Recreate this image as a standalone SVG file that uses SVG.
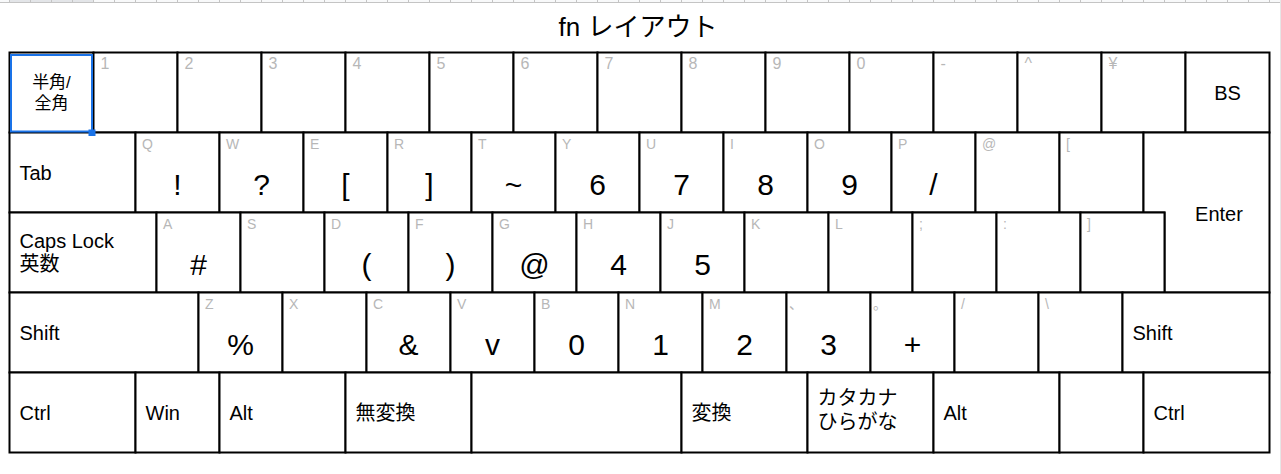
<svg xmlns="http://www.w3.org/2000/svg" width="1281" height="474" viewBox="0 0 1281 474">
<style>
.k{fill:#fff;stroke:#000;stroke-width:2}
text{font-family:"Liberation Sans","Noto Sans CJK JP",sans-serif;fill:#000}
.l{font-size:20px}
.c{text-anchor:middle}
.b{font-size:30px;text-anchor:middle}
.s{font-size:14px;fill:#b7b7b7}
.s1{font-size:16px;fill:#b7b7b7}
.g{stroke:#c4c4c4;stroke-width:1}
</style>
<rect width="1281" height="474" fill="#fff"/>
<g id="sheet-chrome">
<rect x="0" y="0" width="1281" height="3" fill="#f8f9fa"/>
<rect x="9.5" y="0" width="84" height="3" fill="#e3e5e8"/>
<line class="g" x1="0" y1="2.5" x2="1281" y2="2.5"/>
<path class="g" d="M9.5,0V3M30.5,0V3M51.5,0V3M72.5,0V3M93.5,0V3M114.5,0V3M135.5,0V3M156.5,0V3M177.5,0V3M198.5,0V3M219.5,0V3M240.5,0V3M261.5,0V3M282.5,0V3M303.5,0V3M324.5,0V3M345.5,0V3M366.5,0V3M387.5,0V3M408.5,0V3M429.5,0V3M450.5,0V3M471.5,0V3M492.5,0V3M513.5,0V3M534.5,0V3M555.5,0V3M576.5,0V3M597.5,0V3M618.5,0V3M639.5,0V3M660.5,0V3M681.5,0V3M702.5,0V3M723.5,0V3M744.5,0V3M765.5,0V3M786.5,0V3M807.5,0V3M828.5,0V3M849.5,0V3M870.5,0V3M891.5,0V3M912.5,0V3M933.5,0V3M954.5,0V3M975.5,0V3M996.5,0V3M1017.5,0V3M1038.5,0V3M1059.5,0V3M1080.5,0V3M1101.5,0V3M1122.5,0V3M1143.5,0V3M1164.5,0V3M1185.5,0V3M1206.5,0V3M1227.5,0V3M1248.5,0V3M1269.5,0V3"/>
<line x1="1280.5" y1="0" x2="1280.5" y2="474" stroke="#e6e6e6" stroke-width="1"/>
</g>
<g id="title"><text x="638" y="36" font-size="26" text-anchor="middle">fn レイアウト</text></g>
<g id="connectors"></g>

<!-- Row 1 -->
<g id="key-hankaku"><rect class="k" x="9.5" y="52.5" width="84" height="80"/><text class="c" font-size="17" x="51.5" y="88">半角/</text><text class="c" font-size="17" x="51.5" y="108.5">全角</text></g>
<g id="key-1"><rect class="k" x="93.5" y="52.5" width="84" height="80"/><text class="s1" x="100.5" y="69">1</text></g>
<g id="key-2"><rect class="k" x="177.5" y="52.5" width="84" height="80"/><text class="s1" x="184.5" y="69">2</text></g>
<g id="key-3"><rect class="k" x="261.5" y="52.5" width="84" height="80"/><text class="s1" x="268.5" y="69">3</text></g>
<g id="key-4"><rect class="k" x="345.5" y="52.5" width="84" height="80"/><text class="s1" x="352.5" y="69">4</text></g>
<g id="key-5"><rect class="k" x="429.5" y="52.5" width="84" height="80"/><text class="s1" x="436.5" y="69">5</text></g>
<g id="key-6"><rect class="k" x="513.5" y="52.5" width="84" height="80"/><text class="s1" x="520.5" y="69">6</text></g>
<g id="key-7"><rect class="k" x="597.5" y="52.5" width="84" height="80"/><text class="s1" x="604.5" y="69">7</text></g>
<g id="key-8"><rect class="k" x="681.5" y="52.5" width="84" height="80"/><text class="s1" x="688.5" y="69">8</text></g>
<g id="key-9"><rect class="k" x="765.5" y="52.5" width="84" height="80"/><text class="s1" x="772.5" y="69">9</text></g>
<g id="key-0"><rect class="k" x="849.5" y="52.5" width="84" height="80"/><text class="s1" x="856.5" y="69">0</text></g>
<g id="key-minus"><rect class="k" x="933.5" y="52.5" width="84" height="80"/><text class="s1" x="940.5" y="69">-</text></g>
<g id="key-caret"><rect class="k" x="1017.5" y="52.5" width="84" height="80"/><text class="s1" x="1024.5" y="69">^</text></g>
<g id="key-yen"><rect class="k" x="1101.5" y="52.5" width="84" height="80"/><text class="s1" x="1108.5" y="69">¥</text></g>
<g id="key-bs"><rect class="k" x="1185.5" y="52.5" width="84" height="80"/><text class="l c" x="1227.5" y="99.5">BS</text></g>

<!-- Row 2 -->
<g id="key-tab"><rect class="k" x="9.5" y="132.5" width="126" height="80"/><text class="l" x="19.5" y="180">Tab</text></g>
<g id="key-q"><rect class="k" x="135.5" y="132.5" width="84" height="80"/><text class="s" x="142" y="148.5">Q</text><text class="b" x="177.5" y="195">!</text></g>
<g id="key-w"><rect class="k" x="219.5" y="132.5" width="84" height="80"/><text class="s" x="226" y="148.5">W</text><text class="b" x="261.5" y="195">?</text></g>
<g id="key-e"><rect class="k" x="303.5" y="132.5" width="84" height="80"/><text class="s" x="310" y="148.5">E</text><text class="b" x="345.5" y="195">[</text></g>
<g id="key-r"><rect class="k" x="387.5" y="132.5" width="84" height="80"/><text class="s" x="394" y="148.5">R</text><text class="b" x="429.5" y="195">]</text></g>
<g id="key-t"><rect class="k" x="471.5" y="132.5" width="84" height="80"/><text class="s" x="478" y="148.5">T</text><text class="b" x="513.5" y="195">~</text></g>
<g id="key-y"><rect class="k" x="555.5" y="132.5" width="84" height="80"/><text class="s" x="562" y="148.5">Y</text><text class="b" x="597.5" y="195">6</text></g>
<g id="key-u"><rect class="k" x="639.5" y="132.5" width="84" height="80"/><text class="s" x="646" y="148.5">U</text><text class="b" x="681.5" y="195">7</text></g>
<g id="key-i"><rect class="k" x="723.5" y="132.5" width="84" height="80"/><text class="s" x="730" y="148.5">I</text><text class="b" x="765.5" y="195">8</text></g>
<g id="key-o"><rect class="k" x="807.5" y="132.5" width="84" height="80"/><text class="s" x="814" y="148.5">O</text><text class="b" x="849.5" y="195">9</text></g>
<g id="key-p"><rect class="k" x="891.5" y="132.5" width="84" height="80"/><text class="s" x="898" y="148.5">P</text><text class="b" x="933.5" y="195">/</text></g>
<g id="key-at"><rect class="k" x="975.5" y="132.5" width="84" height="80"/><text class="s" x="982" y="148.5">@</text></g>
<g id="key-lbracket"><rect class="k" x="1059.5" y="132.5" width="84" height="80"/><text class="s" x="1066" y="148.5">[</text></g>
<g id="key-enter"><path class="k" d="M1143.5,132.5H1269.5V292.5H1164.5V212.5H1143.5Z"/><text class="l c" x="1219" y="221">Enter</text></g>

<!-- Row 3 -->
<g id="key-caps"><rect class="k" x="9.5" y="212.5" width="147" height="80"/><text class="l" x="19.5" y="248">Caps Lock</text><text class="l" x="19.5" y="271">英数</text></g>
<g id="key-a"><rect class="k" x="156.5" y="212.5" width="84" height="80"/><text class="s" x="163" y="228.5">A</text><text class="b" x="198.5" y="275">#</text></g>
<g id="key-s"><rect class="k" x="240.5" y="212.5" width="84" height="80"/><text class="s" x="247" y="228.5">S</text></g>
<g id="key-d"><rect class="k" x="324.5" y="212.5" width="84" height="80"/><text class="s" x="331" y="228.5">D</text><text class="b" x="366.5" y="275">(</text></g>
<g id="key-f"><rect class="k" x="408.5" y="212.5" width="84" height="80"/><text class="s" x="415" y="228.5">F</text><text class="b" x="450.5" y="275">)</text></g>
<g id="key-g"><rect class="k" x="492.5" y="212.5" width="84" height="80"/><text class="s" x="499" y="228.5">G</text><text class="b" x="534.5" y="275">@</text></g>
<g id="key-h"><rect class="k" x="576.5" y="212.5" width="84" height="80"/><text class="s" x="583" y="228.5">H</text><text class="b" x="618.5" y="275">4</text></g>
<g id="key-j"><rect class="k" x="660.5" y="212.5" width="84" height="80"/><text class="s" x="667" y="228.5">J</text><text class="b" x="702.5" y="275">5</text></g>
<g id="key-k"><rect class="k" x="744.5" y="212.5" width="84" height="80"/><text class="s" x="751" y="228.5">K</text></g>
<g id="key-l"><rect class="k" x="828.5" y="212.5" width="84" height="80"/><text class="s" x="835" y="228.5">L</text></g>
<g id="key-semicolon"><rect class="k" x="912.5" y="212.5" width="84" height="80"/><text class="s" x="919" y="228.5">;</text></g>
<g id="key-colon"><rect class="k" x="996.5" y="212.5" width="84" height="80"/><text class="s" x="1003" y="228.5">:</text></g>
<g id="key-rbracket"><rect class="k" x="1080.5" y="212.5" width="84" height="80"/><text class="s" x="1087" y="228.5">]</text></g>

<!-- Row 4 -->
<g id="key-lshift"><rect class="k" x="9.5" y="292.5" width="189" height="80"/><text class="l" x="19.5" y="340">Shift</text></g>
<g id="key-z"><rect class="k" x="198.5" y="292.5" width="84" height="80"/><text class="s" x="205" y="308.5">Z</text><text class="b" x="240.5" y="355">%</text></g>
<g id="key-x"><rect class="k" x="282.5" y="292.5" width="84" height="80"/><text class="s" x="289" y="308.5">X</text></g>
<g id="key-c"><rect class="k" x="366.5" y="292.5" width="84" height="80"/><text class="s" x="373" y="308.5">C</text><text class="b" x="408.5" y="355">&amp;</text></g>
<g id="key-v"><rect class="k" x="450.5" y="292.5" width="84" height="80"/><text class="s" x="457" y="308.5">V</text><text class="b" x="492.5" y="355">v</text></g>
<g id="key-b"><rect class="k" x="534.5" y="292.5" width="84" height="80"/><text class="s" x="541" y="308.5">B</text><text class="b" x="576.5" y="355">0</text></g>
<g id="key-n"><rect class="k" x="618.5" y="292.5" width="84" height="80"/><text class="s" x="625" y="308.5">N</text><text class="b" x="660.5" y="355">1</text></g>
<g id="key-m"><rect class="k" x="702.5" y="292.5" width="84" height="80"/><text class="s" x="709" y="308.5">M</text><text class="b" x="744.5" y="355">2</text></g>
<g id="key-comma"><rect class="k" x="786.5" y="292.5" width="84" height="80"/><text class="s" x="789" y="308.5">、</text><text class="b" x="828.5" y="355">3</text></g>
<g id="key-period"><rect class="k" x="870.5" y="292.5" width="84" height="80"/><text class="s" x="873" y="308.5">。</text><text class="b" x="912.5" y="355">+</text></g>
<g id="key-slash"><rect class="k" x="954.5" y="292.5" width="84" height="80"/><text class="s" x="961" y="308.5">/</text></g>
<g id="key-backslash"><rect class="k" x="1038.5" y="292.5" width="84" height="80"/><text class="s" x="1045" y="308.5">\</text></g>
<g id="key-rshift"><rect class="k" x="1122.5" y="292.5" width="147" height="80"/><text class="l" x="1132.5" y="340">Shift</text></g>

<!-- Row 5 -->
<g id="key-lctrl"><rect class="k" x="9.5" y="372.5" width="126" height="80"/><text class="l" x="19.5" y="420">Ctrl</text></g>
<g id="key-win"><rect class="k" x="135.5" y="372.5" width="84" height="80"/><text class="l" x="145.5" y="420">Win</text></g>
<g id="key-lalt"><rect class="k" x="219.5" y="372.5" width="126" height="80"/><text class="l" x="229.5" y="420">Alt</text></g>
<g id="key-muhenkan"><rect class="k" x="345.5" y="372.5" width="126" height="80"/><text class="l" x="355.5" y="420">無変換</text></g>
<g id="key-space"><rect class="k" x="471.5" y="372.5" width="210" height="80"/></g>
<g id="key-henkan"><rect class="k" x="681.5" y="372.5" width="126" height="80"/><text class="l" x="691.5" y="420">変換</text></g>
<g id="key-kana"><rect class="k" x="807.5" y="372.5" width="126" height="80"/><text class="l" x="817.5" y="405">カタカナ</text><text class="l" x="817.5" y="429">ひらがな</text></g>
<g id="key-ralt"><rect class="k" x="933.5" y="372.5" width="126" height="80"/><text class="l" x="943.5" y="420">Alt</text></g>
<g id="key-blank"><rect class="k" x="1059.5" y="372.5" width="84" height="80"/></g>
<g id="key-rctrl"><rect class="k" x="1143.5" y="372.5" width="126" height="80"/><text class="l" x="1153.5" y="420">Ctrl</text></g>

<g id="selection">
<rect x="11" y="55" width="81" height="76.5" fill="none" stroke="#1a73e8" stroke-width="2"/>
<rect x="88.5" y="129.5" width="7" height="6.5" fill="#1a73e8"/>
</g>
</svg>
